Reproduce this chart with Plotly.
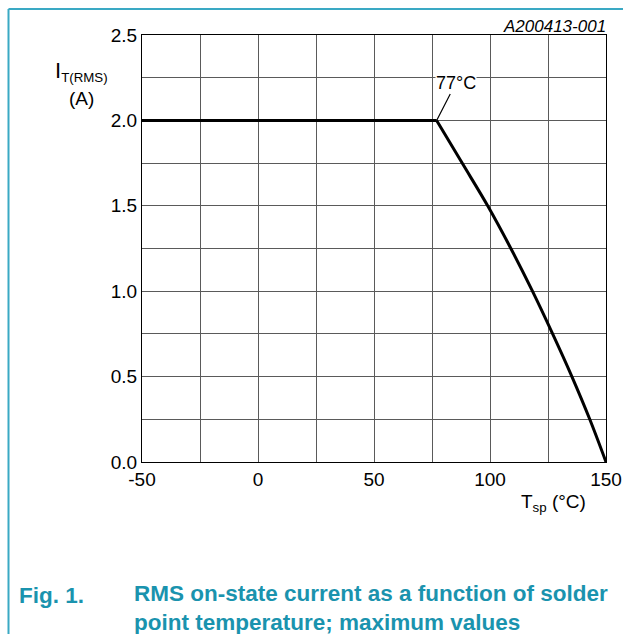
import plotly.graph_objects as go

# Data
temps = [-50, 77, 88, 99, 109, 118.3, 127, 135.3, 143, 150]
current = [2.0, 2.0, 1.75, 1.5, 1.25, 1.0, 0.75, 0.5, 0.25, 0.0]

x_tickvals = [-50, 0, 50, 100, 150]
x_ticktext = ["-50", "0", "50", "100", "150"]
y_tickvals = [0.0, 0.5, 1.0, 1.5, 2.0, 2.5]
y_ticktext = ["0.0", "0.5", "1.0", "1.5", "2.0", "2.5"]

knee_x, knee_y = 77, 2.0

FONT = "Liberation Sans, Arial, sans-serif"
TEAL = "#1a93ae"
BORDER = "#3aa9c4"

fig = go.Figure()
# flat part
fig.add_trace(go.Scatter(x=temps[:2], y=current[:2], mode="lines",
                         line=dict(color="black", width=3), showlegend=False,
                         hoverinfo="skip"))
# derating part
fig.add_trace(go.Scatter(x=temps[1:], y=current[1:], mode="lines",
                         line=dict(color="black", width=3, shape="spline", smoothing=1.0),
                         showlegend=False, hoverinfo="skip"))

L, R, T, B = 142, 17, 35, 172
W, H = 623, 634
pw, ph = W - L - R, H - T - B

def px(xp):
    return (xp - L) / pw

def py(yp):
    return (H - B - yp) / ph

GC = "#5a5a5a"
fig.update_layout(
    width=W, height=H,
    margin=dict(l=L, r=R, t=T, b=B, autoexpand=False),
    paper_bgcolor="white", plot_bgcolor="white",
    font=dict(family=FONT, size=18, color="black"),
    xaxis=dict(range=[-50, 150], tickmode="array", tickvals=x_tickvals, ticktext=x_ticktext,
               showgrid=True, gridcolor=GC, gridwidth=1.3, automargin=False,
               minor=dict(tickmode="linear", dtick=25, tick0=-50, showgrid=True,
                          gridcolor=GC, gridwidth=1.3),
               showline=True, linecolor="black", linewidth=1.3, mirror=True,
               ticks="", zeroline=False, tickfont=dict(size=19)),
    yaxis=dict(range=[0, 2.5], tickmode="array", tickvals=y_tickvals, ticktext=y_ticktext,
               showgrid=True, gridcolor=GC, gridwidth=1.3, automargin=False,
               minor=dict(tickmode="linear", dtick=0.25, tick0=0, showgrid=True,
                          gridcolor=GC, gridwidth=1.3),
               showline=True, linecolor="black", linewidth=1.3, mirror=True,
               ticks="", zeroline=False, tickfont=dict(size=19)),
)

annotations = [
    dict(x=knee_x, y=knee_y, xref="x", yref="y", text="77°C", showarrow=True,
         arrowhead=0, arrowwidth=1.2, arrowcolor="black", ax=19, ay=-37,
         bgcolor="white", font=dict(size=18), borderpad=0),
    dict(x=px(608), y=py(27), xref="paper", yref="paper", text="<i>A200413-001</i>",
         showarrow=False, xanchor="right", yanchor="middle", font=dict(size=17)),
    dict(x=px(81), y=py(71), xref="paper", yref="paper",
         text="<span style='font-size:22px'>I</span><sub>T(RMS)</sub>", showarrow=False,
         xanchor="center", yanchor="middle", font=dict(size=19)),
    dict(x=px(81), y=py(98), xref="paper", yref="paper", text="(A)",
         showarrow=False, xanchor="center", yanchor="middle", font=dict(size=19)),
    dict(x=px(553), y=py(503), xref="paper", yref="paper",
         text="T<sub>sp</sub> (°C)", showarrow=False, xanchor="center", yanchor="middle",
         font=dict(size=19)),
    dict(x=px(17), y=py(595), xref="paper", yref="paper", text="<b>Fig. 1.</b>",
         showarrow=False, xanchor="left", yanchor="middle",
         font=dict(size=22.5, color=TEAL)),
    dict(x=px(132), y=py(607.5), xref="paper", yref="paper",
         text="<b>RMS on-state current as a function of solder<br>point temperature; maximum values</b>",
         showarrow=False, xanchor="left", yanchor="middle", align="left",
         font=dict(size=22.5, color=TEAL)),
]
fig.update_layout(annotations=annotations)

fig.add_shape(type="line", xref="paper", yref="paper", x0=px(8.5), x1=px(8.5),
              y0=py(9), y1=py(634), line=dict(color=BORDER, width=2))
fig.add_shape(type="line", xref="paper", yref="paper", x0=px(8.5), x1=px(623),
              y0=py(9), y1=py(9), line=dict(color=BORDER, width=2))

fig.write_html("out.html", config={"displayModeBar": False},
               post_script="document.body.style.margin='0';document.body.style.overflow='hidden';")
